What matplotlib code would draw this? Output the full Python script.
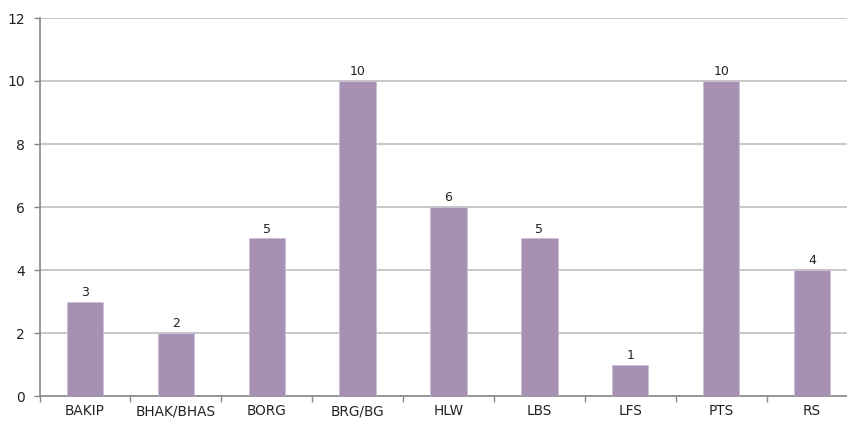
import matplotlib
matplotlib.use("Agg")
import matplotlib.pyplot as plt
import numpy as np

categories = ["BAKIP", "BHAK/BHAS", "BORG", "BRG/BG", "HLW", "LBS", "LFS", "PTS", "RS"]
values = [3, 2, 5, 10, 6, 5, 1, 10, 4]
yticks = [0, 2, 4, 6, 8, 10, 12]

plt.rcParams['font.family'] = ['DejaVu Sans']

fig = plt.figure(figsize=(8.47, 4.23), dpi=100)
ax = fig.add_axes([39.5 / 847, 27 / 423, 818 / 847, 378 / 423])

x = np.arange(len(categories))
bars = ax.bar(x, values, width=0.4, color="#A690B3", edgecolor="#CDBFD6", linewidth=0.6, zorder=3)

for xi, v in zip(x, values):
    ax.text(xi, v + 0.08, str(v), ha="center", va="bottom", fontsize=9, color="#222222", zorder=4)

ax.set_xlim(-0.5, len(categories) - 0.5)
ax.set_ylim(0, 12)
ax.set_yticks(yticks)
ax.set_yticklabels([str(t) for t in yticks], fontsize=10, color="#222222")
ax.set_xticks(x)
ax.set_xticklabels(categories, fontsize=9.8, color="#222222")
ax.tick_params(axis="x", length=0, pad=6)
ax.tick_params(axis="y", length=4.5, color="#888888", width=1, pad=6)

# category separators along the bottom axis
ax.set_xticks(np.arange(len(categories) + 1) - 0.5, minor=True)
ax.tick_params(axis="x", which="minor", length=4, color="#888888", width=1, direction="out")

ax.yaxis.grid(True, color="#BEBEBE", linewidth=1.2, zorder=0)
ax.set_axisbelow(True)

for s in ["top", "right"]:
    ax.spines[s].set_visible(False)
ax.spines["left"].set_color("#888888")
ax.spines["left"].set_linewidth(1.2)
ax.spines["bottom"].set_color("#888888")
ax.spines["bottom"].set_linewidth(1.2)

fig.savefig("out.png", dpi=100)
